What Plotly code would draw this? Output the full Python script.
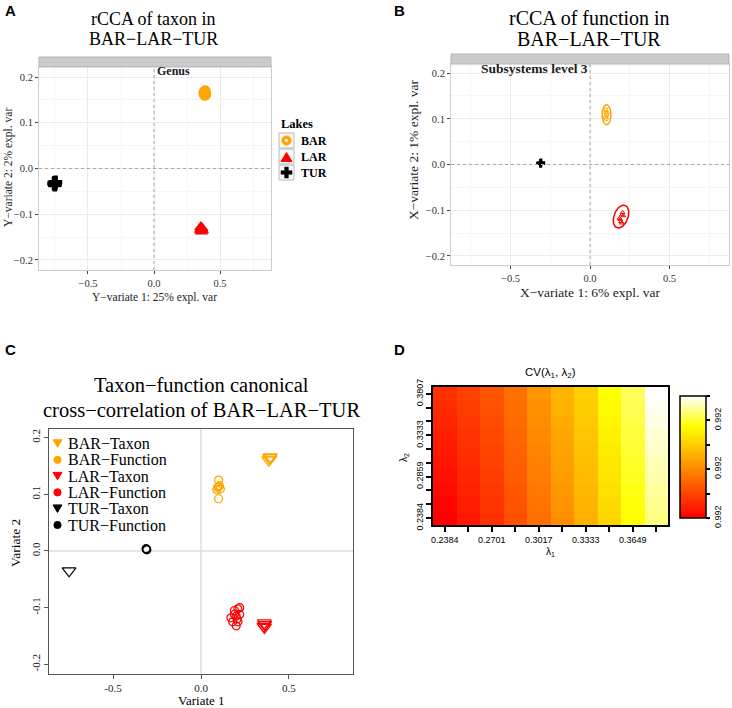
import numpy as np
import plotly.graph_objects as go

W, H = 732, 708
def px(x): return x / W
def py(y): return 1 - y / H

SERIF = "Liberation Serif"
SANS = "Liberation Sans"
ORANGE = "#FFA500"
RED = "#FF0000"
BLACK = "#000000"

# ---------------- Panel A: rCCA of taxon (Y-variates) ----------------
lakes = ["BAR", "LAR", "TUR"]
a_bar_x = [0.380, 0.390, 0.385, 0.392, 0.378, 0.388]
a_bar_y = [0.168, 0.165, 0.160, 0.162, 0.163, 0.170]
a_lar_x = [0.355, 0.360, 0.365, 0.358, 0.352, 0.362]
a_lar_y = [-0.128, -0.133, -0.135, -0.138, -0.134, -0.130]
a_tur_x = [-0.755, -0.748, -0.752, -0.745, -0.758, -0.750]
a_tur_y = [-0.031, -0.034, -0.036, -0.030, -0.033, -0.032]

# ---------------- Panel B: rCCA of function (X-variates) ----------------
b_bar_x = [0.100, 0.105, 0.098, 0.108, 0.102, 0.100]
b_bar_y = [0.115, 0.108, 0.104, 0.112, 0.100, 0.120]
b_lar_x = [0.190, 0.200, 0.195, 0.205, 0.185, 0.200, 0.210]
b_lar_y = [-0.120, -0.110, -0.125, -0.105, -0.118, -0.128, -0.112]
b_tur_x = [-0.312, -0.308, -0.310]
b_tur_y = [0.003, 0.004, 0.002]
# confidence ellipses: centre, first axis vector, second axis vector
ell_cx = [0.104, 0.195]
ell_cy = [0.109, -0.114]
ell_ux = [0.028, 0.0258]
ell_uy = [0.000, 0.0245]
ell_vx = [0.000, 0.0414]
ell_vy = [0.022, -0.0052]
ell_col = [ORANGE, RED]

# ---------------- Panel C: taxon-function canonical cross-correlation ----------------
c_bar_tax_x = [0.390, 0.385, 0.392, 0.395]
c_bar_tax_y = [0.165, 0.160, 0.162, 0.166]
c_bar_fun_x = [0.100, 0.100, 0.090, 0.110, 0.100, 0.105, 0.095]
c_bar_fun_y = [0.125, 0.113, 0.108, 0.109, 0.092, 0.115, 0.112]
c_lar_tax_x = [0.360, 0.362, 0.358, 0.361]
c_lar_tax_y = [-0.127, -0.130, -0.133, -0.135]
c_lar_fun_x = [0.170, 0.190, 0.210, 0.220, 0.200, 0.180, 0.210, 0.200, 0.220, 0.190, 0.205]
c_lar_fun_y = [-0.118, -0.105, -0.102, -0.100, -0.115, -0.125, -0.125, -0.132, -0.112, -0.112, -0.120]
c_tur_tax_x = [-0.750]
c_tur_tax_y = [-0.035]
c_tur_fun_x = [-0.312, -0.308, -0.310]
c_tur_fun_y = [0.004, 0.002, 0.003]
c_legend_labels = ["BAR\u2212Taxon", "BAR\u2212Function", "LAR\u2212Taxon",
                   "LAR\u2212Function", "TUR\u2212Taxon", "TUR\u2212Function"]

# ---------------- Panel D: CV(lambda1, lambda2) ----------------
lambda1 = [0.2384, 0.2542, 0.2701, 0.2859, 0.3017, 0.3175, 0.3333, 0.3491, 0.3649, 0.3807]
lambda2 = [0.2384, 0.2542, 0.2701, 0.2859, 0.3017, 0.3175, 0.3333, 0.3491, 0.3649, 0.3807]
lambda1_labels = ["0.2384", "", "0.2701", "", "0.3017", "", "0.3333", "", "0.3649", ""]
lambda2_labels = ["0.2384", "", "", "0.2859", "", "", "0.3333", "", "", "0.3807"]
cv = [  # rows: lambda2 (bottom -> top), cols: lambda1
    [0.992000, 0.992028, 0.992056, 0.992094, 0.992132, 0.992168, 0.992208, 0.992252, 0.992300, 0.992350],
    [0.992006, 0.992033, 0.992061, 0.992098, 0.992137, 0.992173, 0.992212, 0.992257, 0.992304, 0.992356],
    [0.992012, 0.992039, 0.992066, 0.992102, 0.992142, 0.992178, 0.992216, 0.992263, 0.992308, 0.992361],
    [0.992019, 0.992044, 0.992071, 0.992107, 0.992147, 0.992183, 0.992220, 0.992268, 0.992312, 0.992367],
    [0.992025, 0.992049, 0.992076, 0.992111, 0.992152, 0.992188, 0.992224, 0.992273, 0.992316, 0.992372],
    [0.992031, 0.992055, 0.992080, 0.992115, 0.992156, 0.992192, 0.992228, 0.992279, 0.992320, 0.992378],
    [0.992037, 0.992060, 0.992085, 0.992119, 0.992161, 0.992197, 0.992232, 0.992284, 0.992324, 0.992383],
    [0.992044, 0.992065, 0.992090, 0.992124, 0.992166, 0.992202, 0.992236, 0.992289, 0.992328, 0.992389],
    [0.992050, 0.992071, 0.992095, 0.992128, 0.992171, 0.992207, 0.992240, 0.992295, 0.992332, 0.992394],
    [0.992056, 0.992076, 0.992100, 0.992132, 0.992176, 0.992212, 0.992244, 0.992300, 0.992336, 0.992400],
]
cb_tickvals = [0.992000, 0.992080, 0.992160, 0.992240, 0.992320, 0.992400]
cb_ticktext = ["0.992", "", "0.992", "", "0.992", ""]

fig = go.Figure()

# ---- A traces
fig.add_trace(go.Scatter(x=a_bar_x, y=a_bar_y, mode="markers", name="BAR", showlegend=False,
                         marker=dict(symbol="circle", size=11, color=ORANGE), xaxis="x", yaxis="y"))
fig.add_trace(go.Scatter(x=a_lar_x, y=a_lar_y, mode="markers", name="LAR", showlegend=False,
                         marker=dict(symbol="triangle-up", size=12, color=RED), xaxis="x", yaxis="y"))
fig.add_trace(go.Scatter(x=a_tur_x, y=a_tur_y, mode="markers", name="TUR", showlegend=False,
                         marker=dict(symbol="cross", size=11, color=BLACK), xaxis="x", yaxis="y"))

# ---- B traces
t = np.linspace(0, 2 * np.pi, 80)
for i in range(len(ell_cx)):
    ex = ell_cx[i] + ell_ux[i] * np.cos(t) + ell_vx[i] * np.sin(t)
    ey = ell_cy[i] + ell_uy[i] * np.cos(t) + ell_vy[i] * np.sin(t)
    fig.add_trace(go.Scatter(x=ex, y=ey, mode="lines", showlegend=False, hoverinfo="skip",
                             line=dict(color=ell_col[i], width=1.5), xaxis="x2", yaxis="y2"))
fig.add_trace(go.Scatter(x=b_bar_x, y=b_bar_y, mode="markers", showlegend=False,
                         marker=dict(symbol="circle-open", size=4, color=ORANGE), xaxis="x2", yaxis="y2"))
fig.add_trace(go.Scatter(x=b_lar_x, y=b_lar_y, mode="markers", showlegend=False,
                         marker=dict(symbol="triangle-up-open", size=4, color=RED), xaxis="x2", yaxis="y2"))
fig.add_trace(go.Scatter(x=b_tur_x, y=b_tur_y, mode="markers", showlegend=False,
                         marker=dict(symbol="cross", size=7, color=BLACK), xaxis="x2", yaxis="y2"))

# ---- C traces
c_sets = [
    (c_bar_tax_x, c_bar_tax_y, "triangle-down-open", 12, ORANGE),
    (c_bar_fun_x, c_bar_fun_y, "circle-open", 8, ORANGE),
    (c_lar_tax_x, c_lar_tax_y, "triangle-down-open", 12, RED),
    (c_lar_fun_x, c_lar_fun_y, "circle-open", 8, RED),
    (c_tur_tax_x, c_tur_tax_y, "triangle-down-open", 12, BLACK),
    (c_tur_fun_x, c_tur_fun_y, "circle-open", 8, BLACK),
]
for (xs, ys, sym, sz, col), lab in zip(c_sets, c_legend_labels):
    fig.add_trace(go.Scatter(x=xs, y=ys, mode="markers", name=lab, showlegend=False,
                             marker=dict(symbol=sym, size=sz, color=col, line=dict(width=1.2)),
                             xaxis="x3", yaxis="y3"))

# ---- D heatmap
fig.add_trace(go.Heatmap(
    x=lambda1, y=lambda2, z=cv, xaxis="x4", yaxis="y4",
    zmin=cb_tickvals[0], zmax=cb_tickvals[-1],
    colorscale=[[0, "#FF0000"], [0.75, "#FFFF00"], [1, "#FFFFFF"]],
    colorbar=dict(
        x=px(680), xanchor="left", xref="paper", y=py(457), yanchor="middle",
        len=122 / H, lenmode="fraction", thickness=26, thicknessmode="pixels",
        xpad=0, ypad=0,
        outlinecolor="black", outlinewidth=1.5, ticks="outside", ticklen=4,
        tickcolor="black", tickwidth=1.5, tickvals=cb_tickvals, ticktext=cb_ticktext,
        tickangle=-90, tickfont=dict(family=SANS, size=9, color="black"),
    ),
))

# ---------------- axes ----------------
def gg_axes(dom, rng, tv, tt, minor_tv):
    return dict(domain=dom, range=rng, tickvals=tv, ticktext=tt, showgrid=True,
                gridcolor="#EBEBEB", gridwidth=1,
                minor=dict(tickvals=minor_tv, showgrid=True, gridcolor="#F6F6F6", gridwidth=0.8),
                zeroline=False, showline=True, mirror=True, linecolor="#CCCCCC", linewidth=1,
                ticks="outside", ticklen=3, tickcolor="#444", tickwidth=1,
                tickfont=dict(family=SERIF, size=10.5, color="#333"), fixedrange=True)

xt_gg = [-0.5, 0.0, 0.5]
xl_gg = ["\u22120.5", "0.0", "0.5"]
yt_gg = [-0.2, -0.1, 0.0, 0.1, 0.2]
yl_gg = ["\u22120.2", "\u22120.1", "0.0", "0.1", "0.2"]

layout = dict(
    width=W, height=H, margin=dict(l=0, r=0, t=0, b=0, autoexpand=False),
    paper_bgcolor="white", plot_bgcolor="white",
    xaxis=dict(**gg_axes([px(39), px(271)], [-0.871, 0.886], xt_gg, xl_gg, [-0.75, -0.25, 0.25, 0.75]), anchor="y"),
    yaxis=dict(**gg_axes([py(270), py(67)], [-0.222, 0.222], yt_gg, yl_gg, [-0.15, -0.05, 0.05, 0.15]), anchor="x"),
    xaxis2=dict(**gg_axes([px(451), px(729)], [-0.874, 0.874], xt_gg, xl_gg, [-0.75, -0.25, 0.25, 0.75]), anchor="y2"),
    yaxis2=dict(**gg_axes([py(265), py(64)], [-0.22, 0.22], yt_gg, yl_gg, [-0.15, -0.05, 0.05, 0.15]), anchor="x2"),
    xaxis3=dict(domain=[px(49), px(353)], range=[-0.864, 0.864], anchor="y3",
                tickvals=[-0.5, 0.0, 0.5], ticktext=["-0.5", "0.0", "0.5"],
                showgrid=False, zeroline=False, showline=True, mirror=True,
                linecolor="#555", linewidth=1, ticks="outside", ticklen=4, tickcolor="#555",
                tickfont=dict(family=SERIF, size=11, color="#222"), fixedrange=True),
    yaxis3=dict(domain=[py(674), py(429)], range=[-0.217, 0.215], anchor="x3",
                tickvals=[-0.2, -0.1, 0.0, 0.1, 0.2], ticktext=["-0.2", "-0.1", "0.0", "0.1", "0.2"],
                tickangle=-90,
                showgrid=False, zeroline=False, showline=True, mirror=True,
                linecolor="#555", linewidth=1, ticks="outside", ticklen=4, tickcolor="#555",
                tickfont=dict(family=SERIF, size=11, color="#222"), fixedrange=True),
    xaxis4=dict(domain=[px(433), px(668)], range=[0.2305, 0.3886], anchor="y4",
                tickvals=lambda1, ticktext=lambda1_labels, showgrid=False, zeroline=False,
                showline=True, mirror=True, linecolor="black", linewidth=1.5,
                ticks="outside", ticklen=5, tickwidth=1.5, tickcolor="black",
                tickfont=dict(family=SANS, size=9, color="black"), fixedrange=True),
    yaxis4=dict(domain=[py(525), py(387)], range=[0.2305, 0.3886], anchor="x4",
                tickvals=lambda2, ticktext=lambda2_labels, tickangle=-90, showgrid=False, zeroline=False,
                showline=True, mirror=True, linecolor="black", linewidth=1.5,
                ticks="outside", ticklen=5, tickwidth=1.5, tickcolor="black",
                tickfont=dict(family=SANS, size=9, color="black"), fixedrange=True),
    showlegend=False,
)
fig.update_layout(**layout)

shapes = []
annotations = []

# strips of A and B
for (x0, x1, y0, y1, label, fs) in [(39, 271, 57, 67, "Genus", 12), (451, 729, 54, 64, "Subsystems level 3", 13.5)]:
    shapes.append(dict(type="rect", xref="paper", yref="paper", x0=px(x0), x1=px(x1), y0=py(y1), y1=py(y0),
                       fillcolor="#CBCBCB", line=dict(color="#B5B5B5", width=1), layer="above"))
    annotations.append(dict(text="<b>%s</b>" % label, x=px((x0 + x1) / 2), y=py((y0 + y1) / 2 + 0.5),
                            xref="paper", yref="paper", showarrow=False,
                            font=dict(family=SERIF, size=fs, color="#1a1a1a")))

# dotted zero lines in A and B
for xa, ya in [("x", "y"), ("x2", "y2")]:
    shapes.append(dict(type="line", xref=xa, yref=ya + " domain", x0=0, x1=0, y0=0, y1=1,
                       line=dict(color="#A8A8A8", width=1, dash="dot")))
    shapes.append(dict(type="line", xref=xa + " domain", yref=ya, x0=0, x1=1, y0=0, y1=0,
                       line=dict(color="#A8A8A8", width=1, dash="dot")))
# light zero lines in C
shapes.append(dict(type="line", xref="x3", yref="y3 domain", x0=0, x1=0, y0=0, y1=1,
                   line=dict(color="#DDDDDD", width=1.5), layer="below"))
shapes.append(dict(type="line", xref="x3 domain", yref="y3", x0=0, x1=1, y0=0, y1=0,
                   line=dict(color="#DDDDDD", width=1.5), layer="below"))

def tri(xc, yc, w, h, up, col):
    if up:
        pts = [(xc - w / 2, yc + h / 2), (xc + w / 2, yc + h / 2), (xc, yc - h / 2)]
    else:
        pts = [(xc - w / 2, yc - h / 2), (xc + w / 2, yc - h / 2), (xc, yc + h / 2)]
    path = "M " + " L ".join("%f,%f" % (px(a), py(b)) for a, b in pts) + " Z"
    return dict(type="path", xref="paper", yref="paper", path=path,
                fillcolor=col, line=dict(color=col, width=1))

def circ(xc, yc, r, col, fill=None):
    return dict(type="circle", xref="paper", yref="paper",
                x0=px(xc - r), x1=px(xc + r), y0=py(yc + r), y1=py(yc - r),
                fillcolor=fill if fill else col, line=dict(color=col, width=1))

def cross(xc, yc, s, col):
    a, b = s / 2, s / 6
    pts = [(-b, -a), (b, -a), (b, -b), (a, -b), (a, b), (b, b), (b, a), (-b, a), (-b, b), (-a, b), (-a, -b), (-b, -b)]
    path = "M " + " L ".join("%f,%f" % (px(xc + u), py(yc + v)) for u, v in pts) + " Z"
    return dict(type="path", xref="paper", yref="paper", path=path,
                fillcolor=col, line=dict(color=col, width=0.5))

# manual legend for A ("Lakes")
annotations.append(dict(text="<b>Lakes</b>", x=px(279), y=py(124), xref="paper", yref="paper",
                        xanchor="left", yanchor="middle", showarrow=False,
                        font=dict(family=SERIF, size=12.5, color="black")))
for i, lab in enumerate(lakes):
    yc = 140.5 + 16 * i
    xc = 286.5
    shapes.append(dict(type="rect", xref="paper", yref="paper", x0=px(279), x1=px(294),
                       y0=py(yc + 7.5), y1=py(yc - 7.5), line=dict(color="#BBBBBB", width=1),
                       fillcolor="#F7F7F7"))
    if i == 0:
        shapes.append(circ(xc, yc, 4.6, ORANGE))
        shapes.append(circ(xc, yc, 1.2, "white", "white"))
    elif i == 1:
        shapes.append(tri(xc, yc + 0.5, 11, 9, True, RED))
    else:
        shapes.append(cross(xc, yc, 11, BLACK))
    annotations.append(dict(text="<b>%s</b>" % lab, x=px(299), y=py(yc), xref="paper", yref="paper",
                            xanchor="left", yanchor="middle", showarrow=False,
                            font=dict(family=SERIF, size=12, color="black")))

# manual legend for C
leg_cols = [ORANGE, ORANGE, RED, RED, BLACK, BLACK]
leg_shape = ["tri", "circ", "tri", "circ", "tri", "circ"]
for i, lab in enumerate(c_legend_labels):
    yc = 443.5 + 16.3 * i
    xc = 57.5
    if leg_shape[i] == "tri":
        shapes.append(tri(xc, yc, 9, 7.5, False, leg_cols[i]))
    else:
        shapes.append(circ(xc, yc, 3.6, leg_cols[i]))
    annotations.append(dict(text=lab, x=px(66), y=py(yc), xref="paper", yref="paper",
                            xanchor="left", yanchor="middle", showarrow=False,
                            font=dict(family=SERIF, size=16, color="black")))

def ann(text, x, y, size, family=SERIF, angle=0, color="black", xanchor="center"):
    annotations.append(dict(text=text, x=px(x), y=py(y), xref="paper", yref="paper", showarrow=False,
                            textangle=angle, xanchor=xanchor, yanchor="middle",
                            font=dict(family=family, size=size, color=color)))

# panel letters
ann("<b>A</b>", 10, 11, 15, SANS)
ann("<b>B</b>", 399, 11, 15, SANS)
ann("<b>C</b>", 10, 349, 15, SANS)
ann("<b>D</b>", 399, 349, 15, SANS)

# titles
ann("rCCA of taxon in", 153, 19, 18)
ann("BAR\u2212LAR\u2212TUR", 153, 39, 18)
ann("rCCA of function in", 589, 18, 20)
ann("BAR\u2212LAR\u2212TUR", 589, 39, 20)
ann("Taxon\u2212function canonical", 201, 385, 20.5)
ann("cross\u2212correlation of BAR\u2212LAR\u2212TUR", 201, 410, 20.5)
ann("CV(\u03bb<sub>1</sub>, \u03bb<sub>2</sub>)", 550, 373, 11.5, SANS)

# axis titles
ann("Y\u2212variate 1: 25% expl. var", 154, 297, 11.5, color="#222")
ann("Y\u2212variate 2: 2% expl. var", 8, 168, 11.5, angle=-90, color="#222")
ann("X\u2212variate 1: 6% expl. var", 590, 292, 13.5, color="#222")
ann("X\u2212variate 2: 1% expl. var", 413, 150, 13.5, angle=-90, color="#222")
ann("Variate 1", 201, 700.5, 13)
ann("Variate 2", 15, 543, 13.5, angle=-90)
ann("\u03bb<sub>1</sub>", 550, 552, 10, SANS)
ann("\u03bb<sub>2</sub>", 404, 457, 10, SANS, angle=-90)

fig.update_layout(shapes=shapes, annotations=annotations)
fig.write_html("out.html", config={"displayModeBar": False},
               post_script="document.documentElement.style.margin='0';document.body.style.margin='0';"
                           "document.body.style.padding='0';document.body.style.overflow='hidden';")
